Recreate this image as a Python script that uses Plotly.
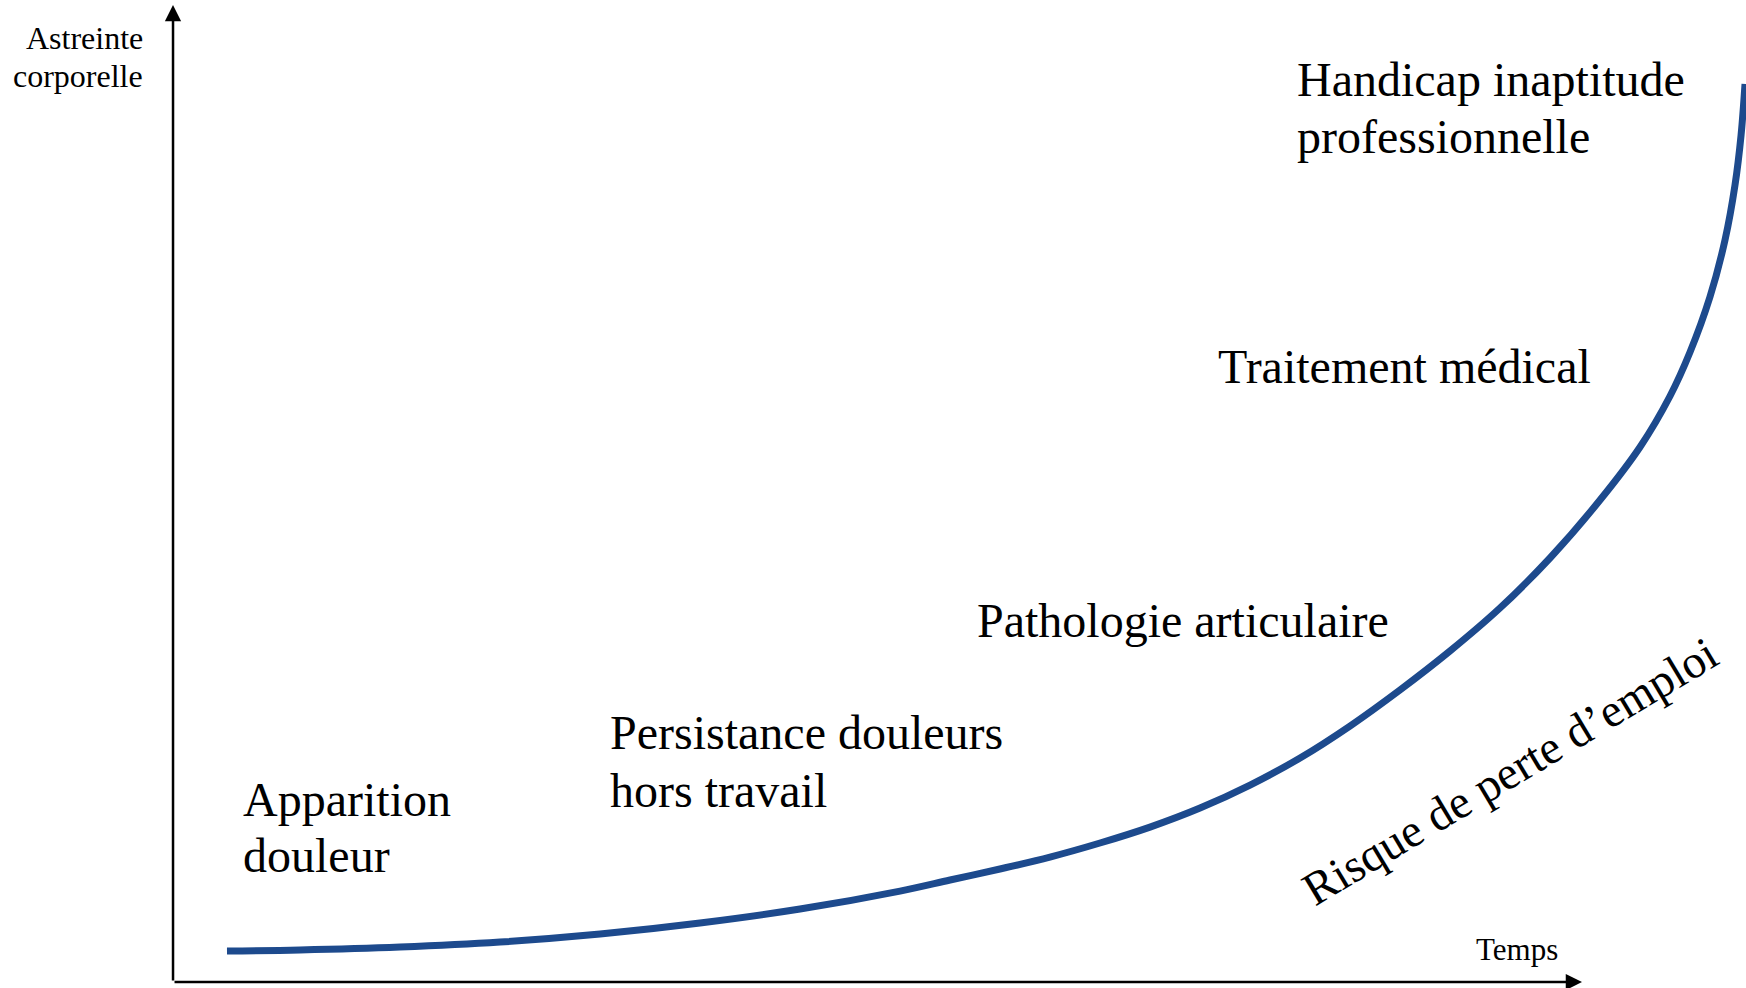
import plotly.graph_objects as go

# ---- data (abstract units: time 0-100 along the x axis, strain 0-100 along the y axis)
temps = [3.83, 9.01, 16.11, 23.21, 30.31, 37.40, 44.50, 51.60, 55.15, 58.69, 62.24,
         65.79, 69.34, 72.89, 76.44, 79.99, 83.53, 87.08, 90.63, 94.18, 97.73, 101.28,
         104.12, 106.25, 107.67, 109.08, 110.15, 110.86, 111.29, 111.57]
astreinte = [3.17, 3.28, 3.58, 4.09, 4.91, 6.04, 7.47, 9.31, 10.44, 11.57, 12.79,
             14.23, 15.86, 17.81, 20.16, 22.93, 26.20, 29.89, 33.88, 38.28, 43.40, 49.33,
             54.76, 59.98, 64.48, 70.11, 75.95, 81.58, 86.69, 91.91]

stage_labels = ["Handicap inaptitude", "professionnelle", "Traitement médical",
                "Pathologie articulaire", "Persistance douleurs", "hors travail",
                "Apparition", "douleur"]
stage_x = [79.65, 79.65, 74.05, 56.95, 30.85, 30.85, 4.82, 4.82]
stage_y = [92.4, 86.5, 63.0, 37.0, 25.5, 19.6, 18.7, 13.0]

y_title_lines = ["Astreinte", "corporelle"]
x_title = "Temps"
risk_label = "Risque de perte d’emploi"

# ---- layout constants
W, H = 1746, 988
X_RANGE = [-12.28, 111.64]
Y_RANGE = [-0.61, 100.51]
FONT = "Liberation Serif, Times New Roman, serif"
CURVE_COLOR = "#1d4a8d"

fig = go.Figure()
fig.add_trace(go.Scatter(x=temps, y=astreinte, mode="lines",
                         line=dict(color=CURVE_COLOR, width=7, shape="spline", smoothing=1.0),
                         hoverinfo="skip", showlegend=False))

ann = []
# axes drawn as arrows
ann.append(dict(x=100, y=0, ax=0, ay=0, xref="x", yref="y", axref="x", ayref="y",
                text="", showarrow=True, arrowhead=2, arrowsize=1.3, arrowwidth=2.5,
                arrowcolor="black", standoff=0))
ann.append(dict(x=0, y=100, ax=0, ay=0, xref="x", yref="y", axref="x", ayref="y",
                text="", showarrow=True, arrowhead=2, arrowsize=1.3, arrowwidth=2.5,
                arrowcolor="black", standoff=0))

for t, xv, yv in zip(stage_labels, stage_x, stage_y):
    ann.append(dict(x=xv, y=yv, xref="x", yref="y", text=t, showarrow=False,
                    xanchor="left", yanchor="middle",
                    font=dict(family=FONT, size=48, color="black")))

for t, yv in zip(y_title_lines, [96.6, 92.7]):
    ann.append(dict(x=-2.0, y=yv, xref="x", yref="y", text=t, showarrow=False,
                    xanchor="right", yanchor="middle",
                    font=dict(family=FONT, size=32, color="black")))

ann.append(dict(x=95.4, y=3.3, xref="x", yref="y", text=x_title, showarrow=False,
                xanchor="center", yanchor="middle",
                font=dict(family=FONT, size=31, color="black")))

ann.append(dict(x=94.9, y=21.6, xref="x", yref="y", text=risk_label, showarrow=False,
                xanchor="center", yanchor="middle", textangle=-31,
                font=dict(family=FONT, size=47, color="black")))

fig.update_layout(
    width=W, height=H,
    margin=dict(l=0, r=0, t=0, b=0),
    paper_bgcolor="white", plot_bgcolor="white",
    xaxis=dict(range=X_RANGE, visible=False, fixedrange=True),
    yaxis=dict(range=Y_RANGE, visible=False, fixedrange=True),
    annotations=ann,
    showlegend=False,
)

fig.write_html("out.html", config={"displayModeBar": False},
               post_script="document.body.style.margin='0';")
